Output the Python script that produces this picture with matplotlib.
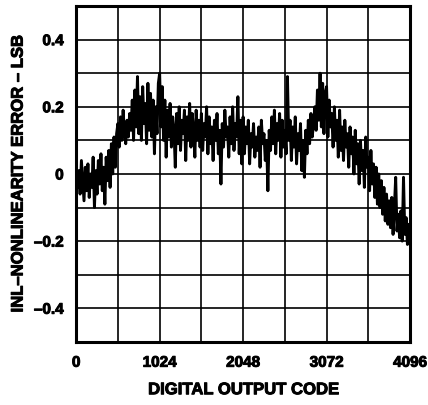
import numpy as np
import matplotlib
matplotlib.use('Agg')
import matplotlib.pyplot as plt
import matplotlib.patheffects as pe

# INL error vs digital output code (one value every 16 codes)
codes = np.arange(0, 4097, 16)
inl = [
    # 0 - 496
    0.03, -0.04, 0.01, -0.06, 0.04, -0.02, -0.08, 0.02, -0.05, 0.03, -0.07, 0.00, -0.04, 0.05, -0.10, 0.01,
    -0.06, 0.04, -0.03, 0.06, -0.05, 0.02, -0.09, 0.05, -0.02, 0.07, -0.04, 0.09, 0.00, 0.11, 0.02, 0.12,
    # 512 - 1008
    0.15, 0.08, 0.17, 0.10, 0.19, 0.12, 0.09, 0.16, 0.11, 0.18, 0.13, 0.22, 0.10, 0.25, 0.14, 0.29,
    0.12, 0.23, 0.10, 0.26, 0.15, 0.21, 0.09, 0.27, 0.13, 0.24, 0.11, 0.22, 0.06, 0.20, 0.12, 0.27,
    # 1024 - 1520
    0.30, 0.14, 0.26, 0.10, 0.22, 0.05, 0.19, 0.11, 0.21, 0.08, 0.17, 0.13, 0.02, 0.18, 0.09, 0.20,
    0.07, 0.16, 0.12, 0.19, 0.04, 0.17, 0.10, 0.21, 0.08, 0.18, 0.13, 0.05, 0.19, 0.10, 0.16, 0.08,
    # 1536 - 2032
    0.18, 0.07, 0.15, 0.11, 0.20, 0.06, 0.17, 0.09, 0.14, 0.04, 0.16, 0.10, 0.18, 0.06, 0.13, -0.03,
    0.15, 0.08, 0.19, 0.11, 0.14, 0.05, 0.17, 0.09, 0.20, 0.07, 0.15, 0.11, 0.23, 0.06, 0.16, 0.03,
    # 2048 - 2544
    0.17, 0.06, 0.14, 0.09, 0.16, 0.03, 0.12, 0.08, 0.15, 0.05, 0.11, 0.07, 0.14, 0.02, 0.16, 0.09,
    0.12, 0.04, 0.10, -0.05, 0.13, 0.07, 0.17, 0.09, 0.19, 0.06, 0.15, 0.10, 0.18, 0.05, 0.16, 0.08,
    # 2560 - 3056
    0.13, 0.06, 0.29, 0.10, 0.16, 0.04, 0.14, 0.08, 0.17, 0.03, 0.12, 0.07, 0.15, 0.01, 0.10, -0.01,
    0.13, 0.06, 0.16, 0.09, 0.18, 0.11, 0.15, 0.20, 0.13, 0.25, 0.16, 0.30, 0.14, 0.27, 0.12, 0.24,
    # 3072 - 3568
    0.26, 0.11, 0.22, 0.14, 0.18, 0.08, 0.20, 0.10, 0.16, 0.05, 0.19, 0.07, 0.14, 0.04, 0.16, 0.08,
    0.12, 0.02, 0.14, 0.06, 0.11, 0.00, 0.13, 0.03, 0.09, -0.03, 0.10, 0.01, 0.07, -0.04, 0.11, 0.02,
    # 3584 - 4096
    0.05, -0.05, 0.07, -0.03, 0.03, -0.07, 0.02, -0.09, 0.00, -0.10, -0.02, -0.12, -0.04, -0.14, -0.06, -0.15,
    -0.08, -0.16, -0.07, -0.18, -0.10, -0.01, -0.17, -0.12, -0.19, -0.11, -0.20, -0.01, -0.18, -0.13, -0.21, -0.15,
    -0.19,
]

x_ticks = np.arange(0, 4097, 512)
x_labels = ['0', '', '1024', '', '2048', '', '3072', '', '4096']
y_ticks = np.round(np.arange(-0.5, 0.51, 0.1), 1)
y_labels = ['', '\u20130.4', '', '\u20130.2', '', '0', '', '0.2', '', '0.4', '']

plt.rcParams['font.family'] = ['Liberation Sans', 'DejaVu Sans']
plt.rcParams['font.weight'] = 'bold'

fig = plt.figure(figsize=(4.28, 4.05), dpi=100)
ax = fig.add_axes([0.178, 0.156, 0.780, 0.829])

ax.plot(codes, inl, color='black', linewidth=2.1)

ax.set_xlim(0, 4096)
ax.set_ylim(-0.5, 0.5)
ax.set_xticks(x_ticks)
ax.set_xticklabels(x_labels)
ax.set_yticks(y_ticks)
ax.set_yticklabels(y_labels)
ax.tick_params(length=0, labelsize=11, pad=9)
ax.tick_params(axis='x', pad=10)
ax.grid(True, color='black', linewidth=1.2)
ax.set_axisbelow(True)
for s in ax.spines.values():
    s.set_linewidth(2.2)

ax.set_xlabel('DIGITAL OUTPUT CODE', fontsize=12, fontweight='bold', labelpad=9)
ax.set_ylabel('INL\u2013NONLINEARITY ERROR \u2013 LSB', fontsize=12, fontweight='bold', labelpad=6)

# heavier, datasheet-like lettering
heavy = [pe.withStroke(linewidth=0.7, foreground='black')]
for t in ax.get_xticklabels() + ax.get_yticklabels() + [ax.xaxis.label, ax.yaxis.label]:
    t.set_path_effects(heavy)

fig.savefig('out.png', dpi=100)
